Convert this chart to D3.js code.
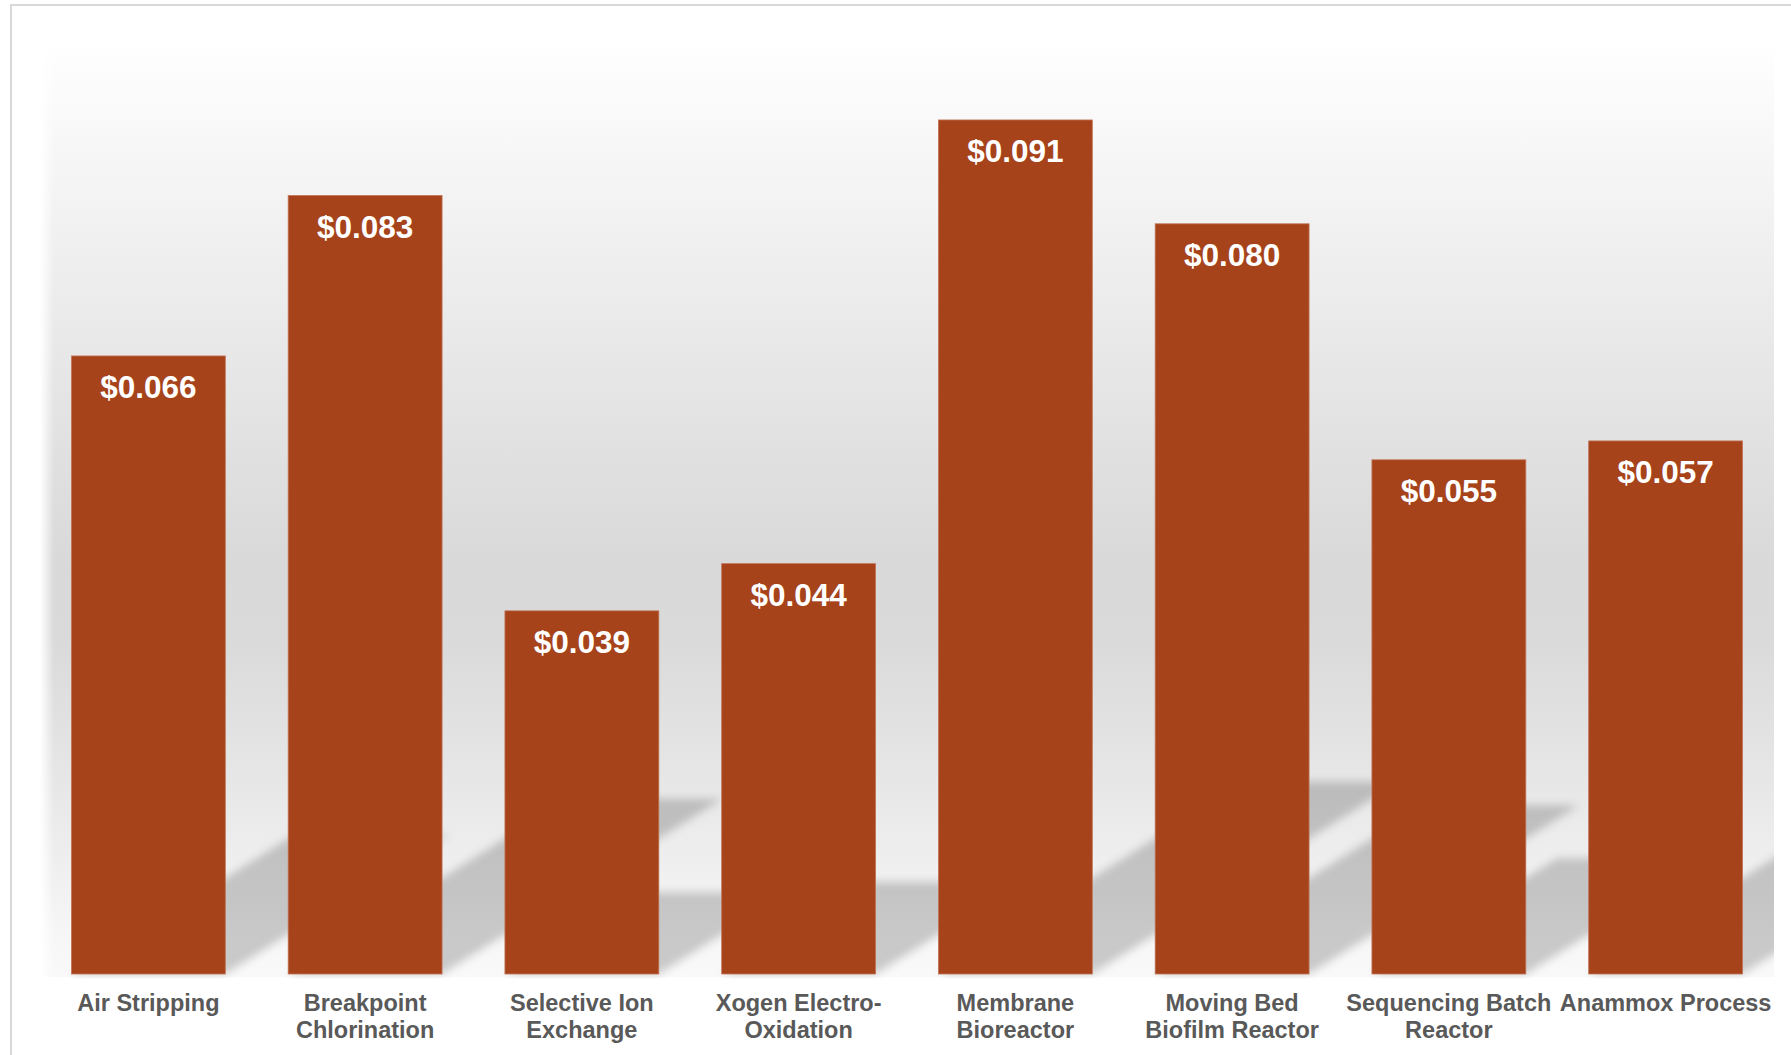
<!DOCTYPE html>
<html>
<head>
<meta charset="utf-8">
<script src="https://cdn.jsdelivr.net/npm/d3@7"></script>
<style>
  html, body { margin: 0; padding: 0; background: #ffffff; }
  svg { display: block; }
</style>
</head>
<body>
<svg id="chart" width="1791" height="1055"></svg>
<script>
// Cost per unit of nitrogen removal, by treatment technology
const categories = [
  "Air Stripping",
  "Breakpoint\nChlorination",
  "Selective Ion\nExchange",
  "Xogen Electro-\nOxidation",
  "Membrane\nBioreactor",
  "Moving Bed\nBiofilm Reactor",
  "Sequencing Batch\nReactor",
  "Anammox Process"
];
const costs = [0.066, 0.083, 0.039, 0.044, 0.091, 0.080, 0.055, 0.057];
const yDomain = [0, 0.1];

const W = 1791, H = 1055;
const plot = { left: 40, right: 1774, top: 40, bottom: 977 };
const baseline = 974;

const svg = d3.select("#chart");
const defs = svg.append("defs");

// background wash of the plot area
const bg = defs.append("linearGradient")
  .attr("id", "bgGrad").attr("x1", 0).attr("y1", 0).attr("x2", 0).attr("y2", 1);
[[0, "#ffffff"], [0.17, "#f3f3f3"], [0.33, "#e8e8e8"], [0.45, "#e0e0e0"],
 [0.56, "#d9d9d9"], [0.64, "#dadada"], [0.76, "#e4e4e4"], [0.87, "#eeeeee"],
 [0.95, "#f6f6f6"], [1, "#f9f9f9"]]
  .forEach(([o, c]) => bg.append("stop").attr("offset", o).attr("stop-color", c));

const edge = defs.append("linearGradient")
  .attr("id", "edgeGrad").attr("x1", 0).attr("y1", 0).attr("x2", 1).attr("y2", 0);
edge.append("stop").attr("offset", 0).attr("stop-color", "#fff").attr("stop-opacity", 0);
edge.append("stop").attr("offset", 0.008).attr("stop-color", "#fff").attr("stop-opacity", 1);
edge.append("stop").attr("offset", 1).attr("stop-color", "#fff").attr("stop-opacity", 1);
defs.append("mask").attr("id", "edgeMask")
  .append("rect")
  .attr("x", plot.left).attr("y", plot.top)
  .attr("width", plot.right - plot.left).attr("height", plot.bottom - plot.top)
  .attr("fill", "url(#edgeGrad)");

defs.append("clipPath").attr("id", "plotClip")
  .append("rect")
  .attr("x", plot.left).attr("y", plot.top)
  .attr("width", plot.right - plot.left).attr("height", plot.bottom - plot.top + 2);

defs.append("filter").attr("id", "shadowBlur")
  .attr("x", "-20%").attr("y", "-20%").attr("width", "140%").attr("height", "140%")
  .append("feGaussianBlur").attr("stdDeviation", 4.5);

// outer frame
svg.append("rect")
  .attr("x", 11).attr("y", 5).attr("width", W + 20).attr("height", H + 20)
  .attr("fill", "none").attr("stroke", "#d9d9d9").attr("stroke-width", 2);

svg.append("rect")
  .attr("x", plot.left).attr("y", plot.top)
  .attr("width", plot.right - plot.left).attr("height", plot.bottom - plot.top)
  .attr("fill", "url(#bgGrad)")
  .attr("mask", "url(#edgeMask)");

const x = d3.scaleBand()
  .domain(categories)
  .range([plot.left, plot.right])
  .paddingInner(0.29)
  .paddingOuter(0.145);

const y = d3.scaleLinear()
  .domain(yDomain)
  .range([979, 35]);

const data = categories.map((c, i) => ({ cat: c, value: costs[i] }));

// perspective shadows falling back and to the right, kept inside the plot area
const shadowRise = 0.225, shadowSkew = 0.36;
svg.append("g")
  .attr("clip-path", "url(#plotClip)")
  .append("g")
  .attr("filter", "url(#shadowBlur)")
  .selectAll("path")
  .data(data)
  .join("path")
  .attr("d", d => {
    const L = x(d.cat), R = L + x.bandwidth();
    const h = baseline - y(d.value);
    const dx = h * shadowSkew, dy = h * shadowRise;
    return `M${L},${baseline}L${R},${baseline}L${R + dx},${baseline - dy}L${L + dx},${baseline - dy}Z`;
  })
  .attr("fill", "#000")
  .attr("fill-opacity", 0.19);

// bars
svg.append("g")
  .selectAll("rect")
  .data(data)
  .join("rect")
  .attr("x", d => x(d.cat))
  .attr("y", d => y(d.value))
  .attr("width", x.bandwidth())
  .attr("height", d => baseline - y(d.value))
  .attr("fill", "#a6431b")
  .attr("stroke", "#c27457")
  .attr("stroke-width", 0.8);

// value labels inside the bar tops
svg.append("g")
  .selectAll("text")
  .data(data)
  .join("text")
  .attr("x", d => x(d.cat) + x.bandwidth() / 2)
  .attr("y", d => y(d.value) + 42.5)
  .attr("text-anchor", "middle")
  .attr("font-family", "'Liberation Sans', Arial, sans-serif")
  .attr("font-weight", "bold")
  .attr("font-size", 31.5)
  .attr("fill", "#ffffff")
  .text(d => "$" + d3.format(".3f")(d.value));

// category axis
const xAxis = svg.append("g")
  .attr("transform", `translate(0,${baseline})`)
  .call(d3.axisBottom(x).tickSize(0).tickFormat(""));
xAxis.select(".domain").remove();

const catLabels = svg.append("g")
  .selectAll("text")
  .data(categories)
  .join("text")
  .attr("x", d => x(d) + x.bandwidth() / 2)
  .attr("y", 1011)
  .attr("text-anchor", "middle")
  .attr("font-family", "'Liberation Sans', Arial, sans-serif")
  .attr("font-weight", "bold")
  .attr("font-size", 23.5)
  .attr("fill", "#595959");

catLabels.each(function (d) {
  const t = d3.select(this);
  d.split("\n").forEach((line, i) => {
    t.append("tspan")
      .attr("x", x(d) + x.bandwidth() / 2)
      .attr("dy", i === 0 ? 0 : 27)
      .text(line);
  });
});
</script>
</body>
</html>
